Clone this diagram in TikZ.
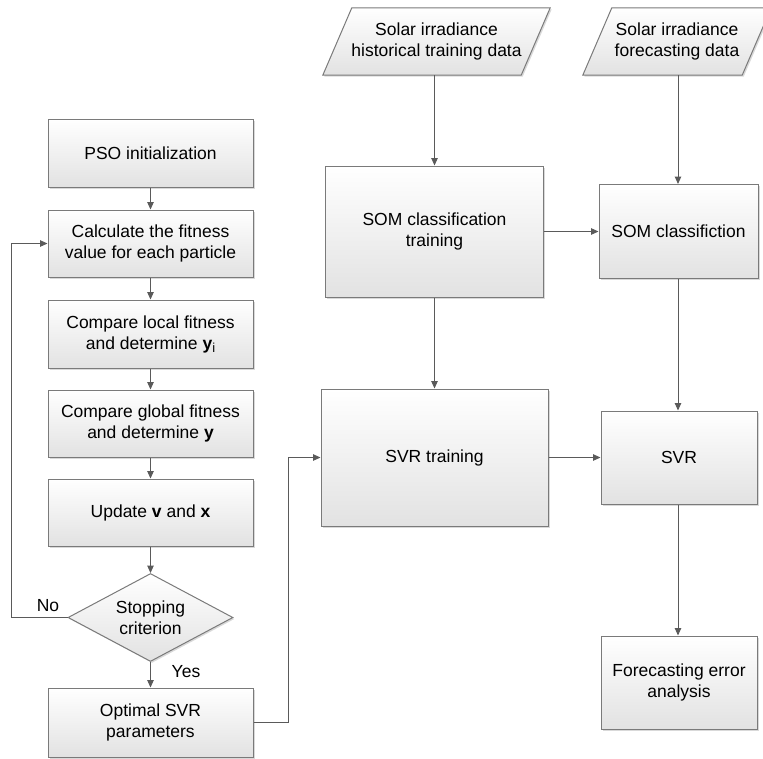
\documentclass[tikz,border=0pt]{standalone}
\usepackage{fontspec}
\setmainfont{Liberation Sans}
\usetikzlibrary{arrows.meta,shapes.geometric,shadows,calc}
\definecolor{bord}{HTML}{7A7A7A}
\definecolor{lin}{HTML}{5A5A5A}
\definecolor{shd}{HTML}{E2E2E2}
\begin{document}
\begin{tikzpicture}[x=1pt,y=-1pt,
  fnt/.style={font=\fontsize{17.5}{21}\selectfont, align=center},
  boxlook/.style={draw=bord, line width=1pt, top color=white, bottom color=shd,
    drop shadow={opacity=0.3, shadow xshift=1.5pt, shadow yshift=-1.5pt, fill=gray}},
  box/.style={boxlook, fnt, rectangle, inner sep=0pt},
  dia/.style={boxlook, shape=diamond, inner sep=0pt, minimum width=165pt, minimum height=88pt},
  holder/.style={rectangle, inner sep=0pt, draw=none},
  conn/.style={draw=lin, line width=1pt, -{Triangle[length=7.5pt,width=6.5pt]}},
  lbl/.style={fnt}
]
\useasboundingbox (0,0) rectangle (763,758);

% left column
\node[box, minimum width=205pt, minimum height=68pt] (pso) at (150.5,153) {PSO initialization};
\node[box, minimum width=205pt, minimum height=67pt] (calc) at (150.5,243.5) {Calculate the fitness\\value for each particle};
\node[box, minimum width=205pt, minimum height=68pt] (loc) at (150.5,334) {Compare local fitness\\and determine \textbf{y}\raisebox{-0.35ex}{\fontsize{13}{13}\selectfont i}};
\node[box, minimum width=205pt, minimum height=67pt] (glo) at (150.5,423.5) {Compare global fitness\\and determine \textbf{y}};
\node[box, minimum width=205pt, minimum height=67pt] (upd) at (150.5,512.5) {Update \textbf{v} and \textbf{x}};
\node[dia] (stop) at (150.5,617.5) {};
\node[fnt] (stopt) at (stop.center) {Stopping\\criterion};
\node[box, minimum width=205pt, minimum height=69pt] (opt) at (150.5,722.5) {Optimal SVR\\parameters};

% middle column
\node[holder, minimum width=227pt, minimum height=67pt] (p1) at (436.5,41.5) {};
\path[boxlook] (p1.south west) -- ($(p1.north west)+(29,0)$) -- (p1.north east) -- ($(p1.south east)+(-29,0)$) -- cycle;
\node[fnt] (p1t) at (p1.center) {Solar irradiance\\historical training data};
\node[box, minimum width=218pt, minimum height=131pt] (somt) at (434.5,231.5) {SOM classification\\training};
\node[box, minimum width=227pt, minimum height=137pt] (svrt) at (434.5,457.5) {SVR training};

% right column
\node[holder, minimum width=188pt, minimum height=67pt] (p2) at (677,41.5) {};
\path[boxlook] (p2.south west) -- ($(p2.north west)+(29,0)$) -- (p2.north east) -- ($(p2.south east)+(-29,0)$) -- cycle;
\node[fnt] (p2t) at (p2.center) {Solar irradiance\\forecasting data};
\node[box, minimum width=159pt, minimum height=94pt] (somc) at (678.5,231.5) {SOM classifiction};
\node[box, minimum width=156pt, minimum height=93pt] (svr) at (679,457.5) {SVR};
\node[box, minimum width=156pt, minimum height=93pt] (fea) at (679,682.5) {Forecasting error\\analysis};

% connectors left
\draw[conn] (pso) -- (calc);
\draw[conn] (calc) -- (loc);
\draw[conn] (loc) -- (glo);
\draw[conn] (glo) -- (upd);
\draw[conn] (upd) -- (stop);
\coordinate (lp) at (11,617.5);
\draw[conn] (stop.west) -- (lp) |- (calc.west);
\draw[conn] (stop) -- (opt);
\node[lbl] (no) at (48,606) {No};
\node[lbl] (yes) at (186,672) {Yes};
\coordinate (rp) at (288,722.5);
\draw[conn] (opt.east) -- (rp) |- (svrt.west);

% connectors middle/right
\draw[conn] (p1.south -| somt.north) -- (somt.north);
\draw[conn] (somt) -- (svrt);
\draw[conn] (somt.east) -- (somc.west);
\draw[conn] (p2.south -| 678,0) -- (678,0 |- somc.north);
\draw[conn] (somc.south -| 678,0) -- (678,0 |- svr.north);
\draw[conn] (svrt.east) -- (svr.west);
\draw[conn] (svr.south -| 678,0) -- (678,0 |- fea.north);
\end{tikzpicture}
\end{document}
